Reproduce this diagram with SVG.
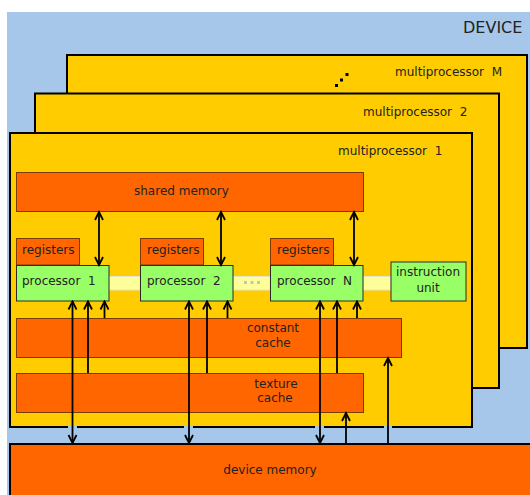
<svg xmlns="http://www.w3.org/2000/svg" width="530" height="495" viewBox="0 0 530 495">
  <defs>
    <style>
      text { font-family: "DejaVu Sans", Verdana, sans-serif; font-size: 12px; fill: #222; white-space: pre; }
      .mp { fill: #ffcc00; stroke: #000; stroke-width: 2; }
      .mem { fill: #ff6600; stroke: #7a3a00; stroke-width: 1; }
      .proc { fill: #99ff66; stroke: #2a2a2a; stroke-width: 1; }
      .bus { fill: #ffff99; stroke: #e4e4c8; stroke-width: 1; }
      .link { stroke: #000; stroke-width: 1.8; fill: none; }
      .up { marker-end: url(#head); }
      .both { marker-start: url(#head); marker-end: url(#head); }
    </style>
    <marker id="head" markerUnits="userSpaceOnUse" markerWidth="12" markerHeight="12" viewBox="0 0 12 12" refX="10" refY="6" orient="auto-start-reverse">
      <path d="M2,2 L10,6 L2,10" fill="none" stroke="#000" stroke-width="1.8"/>
    </marker>
  </defs>

  <!-- device background -->
  <rect x="0" y="0" width="530" height="495" fill="#ffffff"/>
  <rect x="7" y="12" width="523" height="483" fill="#a6c7e9"/>
  <text x="463" y="33" style="font-size:16px">DEVICE</text>

  <!-- stacked multiprocessors -->
  <g id="multiprocessor-M">
    <rect class="mp" x="67" y="55" width="460" height="293"/>
    <text x="395" y="76">multiprocessor  M</text>
    <rect x="335" y="84" width="3" height="3" fill="#000"/>
    <rect x="340" y="78.5" width="3" height="3" fill="#000"/>
    <rect x="345.5" y="73" width="3" height="3" fill="#000"/>
  </g>
  <g id="multiprocessor-2">
    <rect class="mp" x="35" y="93.5" width="464" height="294.5"/>
    <text x="363" y="116">multiprocessor  2</text>
  </g>
  <g id="multiprocessor-1">
    <rect class="mp" x="10" y="133" width="462" height="294"/>
    <text x="338" y="155">multiprocessor  1</text>
  </g>

  <g id="device-memory">
    <rect x="10" y="444" width="530" height="60" fill="#ff6600" stroke="#000" stroke-width="2"/>
    <text x="270" y="474" text-anchor="middle">device memory</text>
  </g>

  <g id="shared-memory">
    <rect class="mem" x="16.5" y="172.5" width="347" height="39"/>
    <text x="134" y="195">shared memory</text>
  </g>

  <!-- buses between processors -->
  <g id="buses">
    <rect class="bus" x="109" y="276.5" width="31" height="13.5"/>
    <rect class="bus" x="233" y="276.5" width="37" height="13.5"/>
    <rect x="244" y="281" width="3" height="3" fill="#c4c4c4"/>
    <rect x="250.5" y="281" width="3" height="3" fill="#c4c4c4"/>
    <rect x="257" y="281" width="3" height="3" fill="#c4c4c4"/>
    <rect class="bus" x="363" y="276.5" width="28" height="13.5"/>
  </g>

  <g id="registers-1">
    <rect class="mem" x="16.5" y="238.5" width="63" height="26.5"/>
    <text x="22" y="254">registers</text>
  </g>
  <g id="processor-1">
    <rect class="proc" x="16.5" y="265.5" width="92.5" height="35.5"/>
    <text x="22" y="285">processor  1</text>
  </g>
  <g id="registers-2">
    <rect class="mem" x="140.5" y="238.5" width="63" height="26.5"/>
    <text x="147" y="254">registers</text>
  </g>
  <g id="processor-2">
    <rect class="proc" x="140.5" y="265.5" width="92.5" height="35.5"/>
    <text x="147" y="285">processor  2</text>
  </g>
  <g id="registers-N">
    <rect class="mem" x="270.5" y="238.5" width="63" height="26.5"/>
    <text x="277" y="254">registers</text>
  </g>
  <g id="processor-N">
    <rect class="proc" x="270.5" y="265.5" width="92.5" height="35.5"/>
    <text x="277" y="285">processor  N</text>
  </g>
  <g id="instruction-unit">
    <rect class="proc" x="391" y="262" width="75" height="39"/>
    <text x="428" y="276" text-anchor="middle">instruction</text>
    <text x="428" y="292" text-anchor="middle">unit</text>
  </g>

  <g id="constant-cache">
    <rect class="mem" x="16.5" y="318.5" width="385" height="39"/>
    <text x="273" y="332" text-anchor="middle">constant</text>
    <text x="273" y="347" text-anchor="middle">cache</text>
  </g>
  <g id="texture-cache">
    <rect class="mem" x="16.5" y="373.5" width="347" height="39"/>
    <text x="276" y="388" text-anchor="middle">texture</text>
    <text x="275" y="402" text-anchor="middle">cache</text>
  </g>

  <!-- openings in the multiprocessor edge where the memory links pass -->
  <g fill="#a6c7e9">
    <rect x="68" y="425.5" width="9" height="3"/>
    <rect x="184" y="425.5" width="9" height="3"/>
    <rect x="315" y="425.5" width="9" height="3"/>
    <rect x="384" y="425.5" width="8" height="3"/>
  </g>

  <g id="connectors">
    <!-- shared memory <-> processors -->
    <line class="link both" x1="99" y1="212" x2="99" y2="265"/>
    <line class="link both" x1="221" y1="212" x2="221" y2="265"/>
    <line class="link both" x1="354" y1="212" x2="354" y2="265"/>
    <!-- device memory <-> processors -->
    <line class="link both" x1="72.5" y1="443" x2="72.5" y2="301.5"/>
    <line class="link both" x1="189" y1="443" x2="189" y2="301.5"/>
    <line class="link both" x1="320" y1="443" x2="320" y2="301.5"/>
    <!-- texture cache -> processors -->
    <line class="link up" x1="88" y1="373" x2="88" y2="301.5"/>
    <line class="link up" x1="207" y1="373" x2="207" y2="301.5"/>
    <line class="link up" x1="337" y1="373" x2="337" y2="301.5"/>
    <!-- constant cache -> processors -->
    <line class="link up" x1="104.5" y1="318" x2="104.5" y2="301.5"/>
    <line class="link up" x1="227.5" y1="318" x2="227.5" y2="301.5"/>
    <line class="link up" x1="357" y1="318" x2="357" y2="301.5"/>
    <!-- device memory -> caches -->
    <line class="link up" x1="346" y1="443" x2="346" y2="413"/>
    <line class="link up" x1="388" y1="443" x2="388" y2="358"/>
  </g>
</svg>
